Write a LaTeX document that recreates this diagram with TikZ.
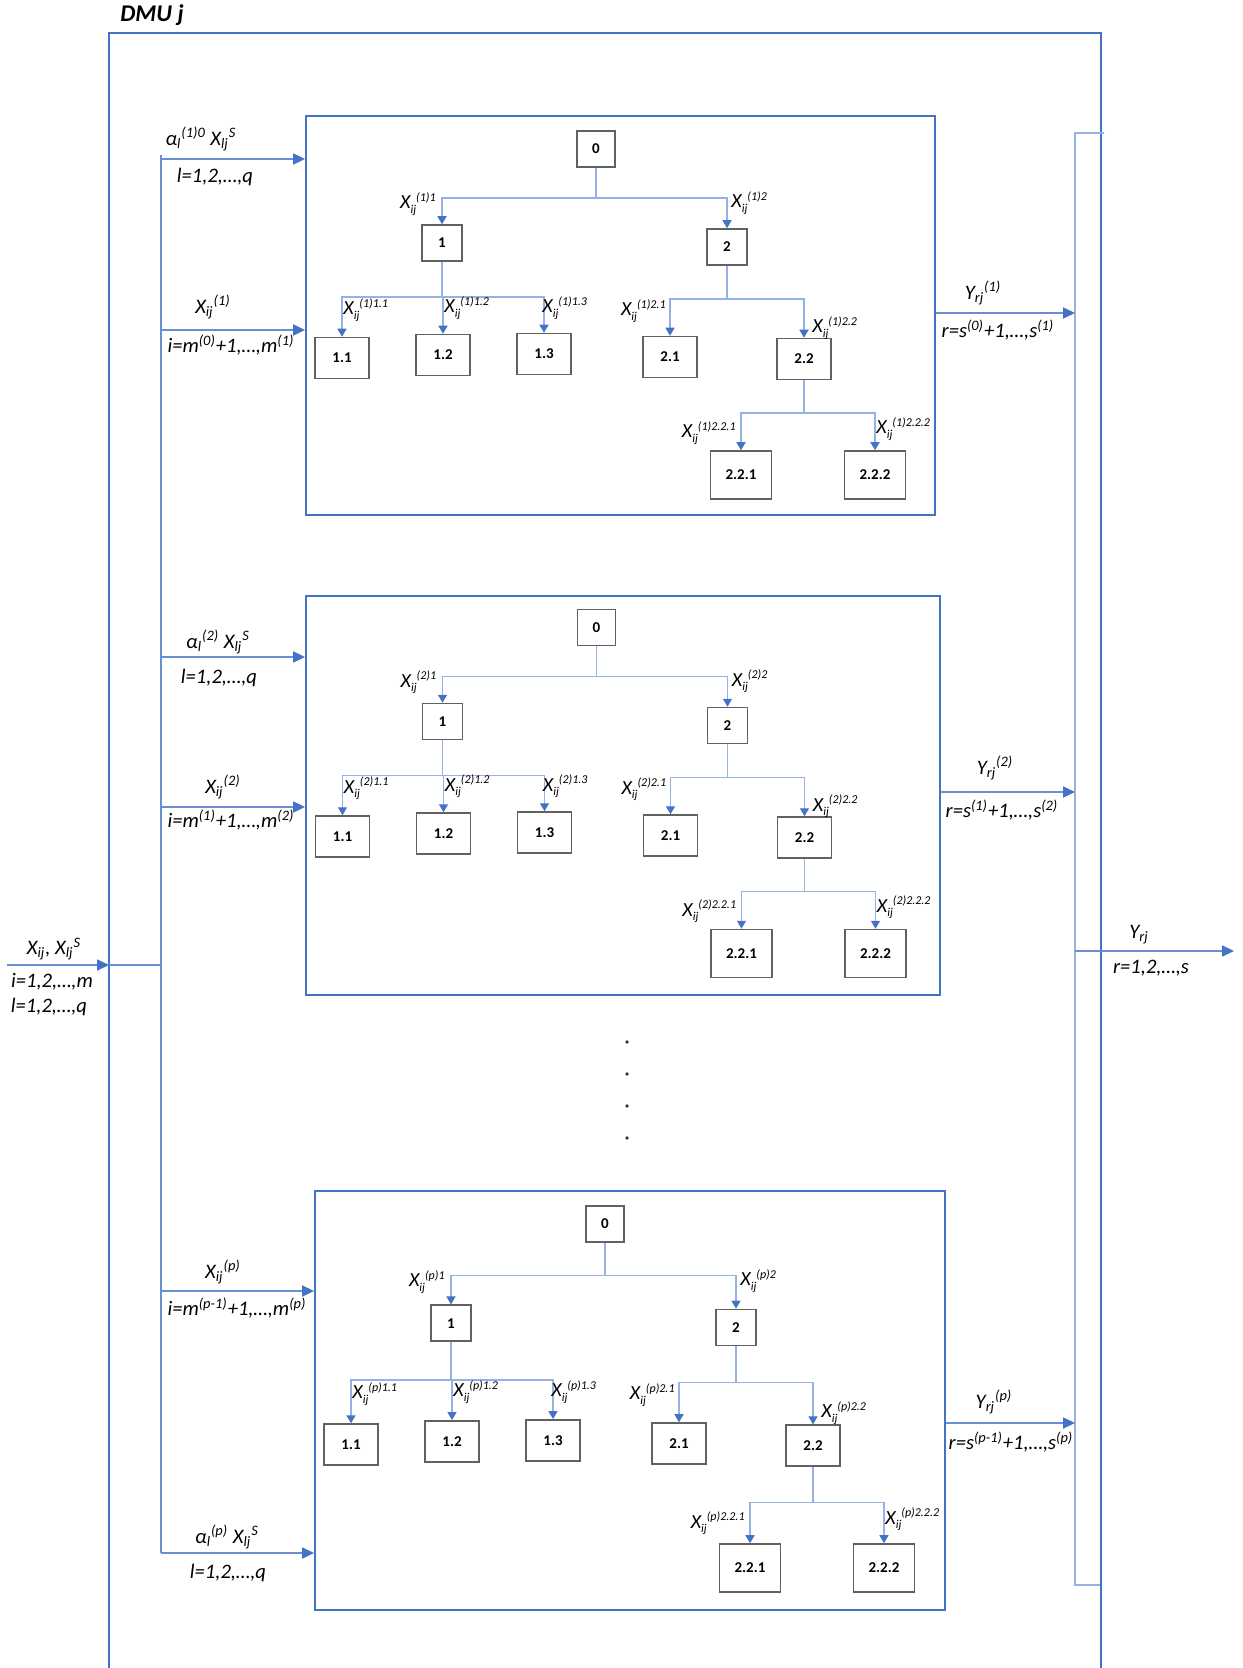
\documentclass[tikz,border=0pt]{standalone}
\usepackage{fontspec}
\setmainfont{Carlito}
\usetikzlibrary{arrows.meta}
\definecolor{dmublue}{RGB}{68,114,196}
\definecolor{lineblue}{RGB}{105,142,210}
\definecolor{treeblue}{RGB}{150,178,228}
\definecolor{headblue}{RGB}{68,114,196}
\definecolor{rbusblue}{RGB}{150,178,228}
\newcommand\sbsp[2]{\textsubscript{#1}\textsuperscript{#2}}
\newcommand\tX[1]{X\raisebox{-0.22em}{\fontsize{6}{6}\selectfont ij}\raisebox{0.38em}{\fontsize{6}{6}\selectfont #1}}
\tikzset{
 nbase/.style={draw=black!62, line width=0.75pt, fill=white, font=\fontsize{7.5}{9}\selectfont\bfseries, inner sep=0pt},
 nd0/.style={nbase, minimum width=19pt, minimum height=18pt},
 nd1/.style={nbase, minimum width=20pt, minimum height=18pt},
 nd2/.style={nbase, minimum width=27pt, minimum height=20.5pt},
 nd3/.style={nbase, minimum width=30.5pt, minimum height=24pt},
 tline/.style={draw=treeblue, line width=0.7pt},
 tarrow/.style={tline, -{Triangle[length=4pt,width=4.5pt,color=headblue]}},
 mline/.style={draw=lineblue, line width=0.9pt},
 marrow/.style={mline, -{Triangle[length=6pt,width=5.5pt,color=headblue]}},
 mlab/.style={font=\fontsize{10.3}{12}\selectfont\itshape, inner sep=0pt},
 tlab/.style={font=\fontsize{10}{11}\selectfont\itshape, inner sep=0pt},
 sysbox/.style={draw=dmublue, line width=0.9pt, inner sep=0pt},
}
% tree macro: #1 prefix, #2 x, #3 y, #4 yscale, #5 superscript tag
\newcommand\ptree[5]{%
\begin{scope}[shift={(#2,#3)},yscale=#4]
\node[nd0] (#1n0) at (0,0) {0};
\node[nd1] (#1n1) at (-154,94) {1};
\node[nd1] (#1n2) at (131,98) {2};
\node[nd2] (#1n11) at (-254,209) {1.1};
\node[nd2] (#1n12) at (-153,206) {1.2};
\node[nd2] (#1n13) at (-52,205) {1.3};
\node[nd2] (#1n21) at (74,208) {2.1};
\node[nd2] (#1n22) at (208,210) {2.2};
\node[nd3] (#1n221) at (145,326) {2.2.1};
\node[nd3] (#1n222) at (279,326) {2.2.2};
\coordinate (#1s0) at (0,49);
\coordinate (#1s1) at (-154,148);
\coordinate (#1s2) at (131,150);
\coordinate (#1s22) at (208,264);
\draw[tline] (#1n0) -- (#1s0);
\draw[tarrow] (#1s0) -| (#1n1);
\draw[tarrow] (#1s0) -| (#1n2);
\draw[tline] (#1n1) -- (#1s1);
\draw[tarrow] (#1s1) -| (#1n11);
\draw[tarrow] (#1s1) -| (#1n12);
\draw[tarrow] (#1s1) -| (#1n13);
\draw[tline] (#1n2) -- (#1s2);
\draw[tarrow] (#1s2) -| (#1n21);
\draw[tarrow] (#1s2) -| (#1n22);
\draw[tline] (#1n22) -- (#1s22);
\draw[tarrow] (#1s22) -| (#1n221);
\draw[tarrow] (#1s22) -| (#1n222);
\node[tlab,anchor=east] (#1l1) at (-160,55) {\tX{(#5)1}};
\node[tlab,anchor=west] (#1l2) at (135,54) {\tX{(#5)2}};
\node[tlab,anchor=west] (#1l11) at (-253,161) {\tX{(#5)1.1}};
\node[tlab,anchor=west] (#1l12) at (-152,159) {\tX{(#5)1.2}};
\node[tlab,anchor=west] (#1l13) at (-54,159) {\tX{(#5)1.3}};
\node[tlab,anchor=east] (#1l21) at (70,162) {\tX{(#5)2.1}};
\node[tlab,anchor=west] (#1l22) at (216,179) {\tX{(#5)2.2}};
\node[tlab,anchor=east] (#1l221) at (140,284) {\tX{(#5)2.2.1}};
\node[tlab,anchor=west] (#1l222) at (280,280) {\tX{(#5)2.2.2}};
\end{scope}}
\begin{document}
\begin{tikzpicture}[x=0.5pt,y=-0.5pt]
\useasboundingbox (0,0) rectangle (1242,1668);
% DMU frame
\draw[dmublue, line width=1pt] (109,1672) -- (109,33) -- (1101,33) -- (1101,1672);
\node[font=\fontsize{12}{14}\selectfont\bfseries\itshape, inner sep=0pt] (dmu) at (152,15) {DMU j};
% subsystem boxes
\node[sysbox, minimum width=314.5pt, minimum height=199.5pt] (box1) at (620.5,315.5) {};
\node[sysbox, minimum width=317pt, minimum height=199.5pt] (box2) at (623,795.5) {};
\node[sysbox, minimum width=315pt, minimum height=209.5pt] (box3) at (630,1400.5) {};
% trees
\ptree{a}{596}{149}{1}{1}
\ptree{b}{596.5}{627.5}{1}{2}
\ptree{c}{605}{1224}{1.055}{p}
% input
\coordinate (in) at (7,965);
\coordinate (dmuL) at (109,965);
\coordinate (busTop) at (161,155);
\coordinate (busBot) at (161,1553);
\coordinate (busIn) at (161,965);
\draw[marrow] (in) -- (dmuL);
\draw[mline] (dmuL) -- (busIn);
\draw[mline] (busTop) -- (busBot);
\node[mlab] (inl1) at (54,949) {X\textsubscript{ij}, X\sbsp{lj}{S}};
\node[mlab] (inl2) at (52,982) {i=1,2,…,m};
\node[mlab] (inl3) at (49,1007) {l=1,2,…,q};
% left branches
\coordinate (ba1) at (161,159);
\coordinate (bx1) at (161,330);
\coordinate (ba2) at (161,657);
\coordinate (bx2) at (161,807);
\coordinate (bxp) at (161,1291);
\coordinate (bap) at (161,1553);
\draw[marrow] (ba1) -- (ba1 -| box1.west);
\draw[marrow] (bx1) -- (bx1 -| box1.west);
\draw[marrow] (ba2) -- (ba2 -| box2.west);
\draw[marrow] (bx2) -- (bx2 -| box2.west);
\draw[marrow] (bxp) -- (bxp -| box3.west);
\draw[marrow] (bap) -- (bap -| box3.west);
\node[mlab] (la1) at (201,139) {α\sbsp{l}{(1)0} X\sbsp{lj}{S}};
\node[mlab] (la1b) at (215,177) {l=1,2,…,q};
\node[mlab] (lx1) at (213,307) {X\sbsp{ij}{(1)}};
\node[mlab] (lx1b) at (231,345) {i=m\textsuperscript{(0)}+1,…,m\textsuperscript{(1)}};
\node[mlab] (la2) at (218,642) {α\sbsp{l}{(2)} X\sbsp{lj}{S}};
\node[mlab] (la2b) at (219,678) {l=1,2,…,q};
\node[mlab] (lx2) at (223,787) {X\sbsp{ij}{(2)}};
\node[mlab] (lx2b) at (231,820) {i=m\textsuperscript{(1)}+1,…,m\textsuperscript{(2)}};
\node[mlab] (lxp) at (223,1272) {X\sbsp{ij}{(p)}};
\node[mlab] (lxpb) at (237,1308) {i=m\textsuperscript{(p-1)}+1,…,m\textsuperscript{(p)}};
\node[mlab] (lap) at (227,1537) {α\sbsp{l}{(p)} X\sbsp{lj}{S}};
\node[mlab] (lapb) at (228,1573) {l=1,2,…,q};
% right bus
\coordinate (rbT1) at (1104,133);
\coordinate (rbT) at (1075,133);
\coordinate (rbB) at (1075,1585);
\coordinate (rbB1) at (1100,1585);
\draw[draw=rbusblue, line width=0.9pt] (rbT1) -- (rbT) -- (rbB) -- (rbB1);
\coordinate (ry1) at (1075,313);
\coordinate (ry2) at (1075,792);
\coordinate (ryp) at (1075,1423);
\draw[marrow] (ry1 -| box1.east) -- (ry1);
\draw[marrow] (ry2 -| box2.east) -- (ry2);
\draw[marrow] (ryp -| box3.east) -- (ryp);
\node[mlab] (ly1) at (983,293) {Y\sbsp{rj}{(1)}};
\node[mlab] (ly1b) at (998,330) {r=s\textsuperscript{(0)}+1,…,s\textsuperscript{(1)}};
\node[mlab] (ly2) at (995,768) {Y\sbsp{rj}{(2)}};
\node[mlab] (ly2b) at (1002,810) {r=s\textsuperscript{(1)}+1,…,s\textsuperscript{(2)}};
\node[mlab] (lyp) at (994,1402) {Y\sbsp{rj}{(p)}};
\node[mlab] (lypb) at (1011,1442) {r=s\textsuperscript{(p-1)}+1,…,s\textsuperscript{(p)}};
% output
\coordinate (rout0) at (1075,951);
\coordinate (rout) at (1234,951);
\draw[marrow] (rout0) -- (rout);
\node[mlab] (lyo) at (1139,935) {Y\textsubscript{rj}};
\node[mlab] (lyob) at (1151,968) {r=1,2,…,s};
% dots
\foreach \yy in {1042,1074,1106,1138} \fill[black!80] (627,\yy) circle (0.9pt);
\end{tikzpicture}
\end{document}
